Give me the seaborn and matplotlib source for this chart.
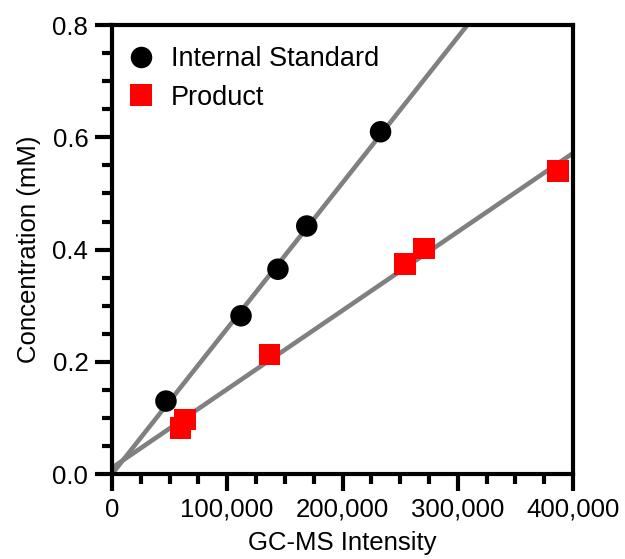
import numpy as np
import pandas as pd
import matplotlib
matplotlib.use("Agg")
import matplotlib.pyplot as plt
from matplotlib.ticker import MultipleLocator, FuncFormatter
import seaborn as sns

# Calibration data: GC-MS intensity vs. concentration (mM)
std_intensity = [46900, 112000, 144000, 169000, 233000]
std_conc = [0.130, 0.282, 0.365, 0.442, 0.610]

prod_intensity = [59600, 63300, 136500, 254000, 270700, 387000]
prod_conc = [0.082, 0.0975, 0.213, 0.374, 0.402, 0.540]

series_names = ["Internal Standard", "Product"]

sns.set_theme(style="ticks")
plt.rcParams["font.family"] = ["Liberation Sans", "DejaVu Sans"]
plt.rcParams["text.color"] = "black"
plt.rcParams["axes.labelcolor"] = "black"
plt.rcParams["xtick.color"] = "black"
plt.rcParams["ytick.color"] = "black"

df = pd.DataFrame({
    "intensity": std_intensity + prod_intensity,
    "conc": std_conc + prod_conc,
    "series": [series_names[0]] * len(std_intensity) + [series_names[1]] * len(prod_intensity),
})

fig = plt.figure(figsize=(6.25, 5.59), dpi=100)
ax = fig.add_axes([0.179, 0.152, 0.738, 0.803])

# Linear calibration fits
xfit = np.array([0, 400000])
for xs, ys in [(std_intensity, std_conc), (prod_intensity, prod_conc)]:
    m, b = np.polyfit(xs, ys, 1)
    ax.plot(xfit, m * xfit + b, color="#808080", lw=3.3, zorder=1, solid_capstyle="butt")

sns.scatterplot(
    data=df, x="intensity", y="conc", hue="series", style="series",
    palette={series_names[0]: "black", series_names[1]: "#ff0000"},
    markers={series_names[0]: "o", series_names[1]: "s"},
    s=240, linewidth=0, ax=ax, zorder=3, clip_on=False,
)

ax.set_xlim(0, 400000)
ax.set_ylim(0, 0.8)
ax.xaxis.set_major_locator(MultipleLocator(100000))
ax.xaxis.set_minor_locator(MultipleLocator(25000))
ax.yaxis.set_major_locator(MultipleLocator(0.2))
ax.yaxis.set_minor_locator(MultipleLocator(0.05))
ax.xaxis.set_major_formatter(FuncFormatter(lambda v, p: f"{int(v):,}"))
ax.yaxis.set_major_formatter(FuncFormatter(lambda v, p: f"{v:.1f}"))

for sp in ax.spines.values():
    sp.set_linewidth(3)
    sp.set_color("black")
    sp.set_visible(True)

ax.tick_params(which="major", length=12, width=3, direction="out", labelsize=18.5, pad=5, colors="black")
ax.tick_params(which="minor", length=7, width=3, direction="out")

ax.set_xlabel("GC-MS Intensity", fontsize=18.5, labelpad=7)
ax.set_ylabel("Concentration (mM)", fontsize=18.5, labelpad=8)

handles, labels = ax.get_legend_handles_labels()
ax.legend(handles=handles, labels=labels, loc="upper left", frameon=False,
          fontsize=19.5, markerscale=1.0, handletextpad=0.3, labelspacing=0.45,
          handlelength=1.6, bbox_to_anchor=(-0.025, 0.995), borderaxespad=0.3)

fig.savefig("out.png", dpi=100)
